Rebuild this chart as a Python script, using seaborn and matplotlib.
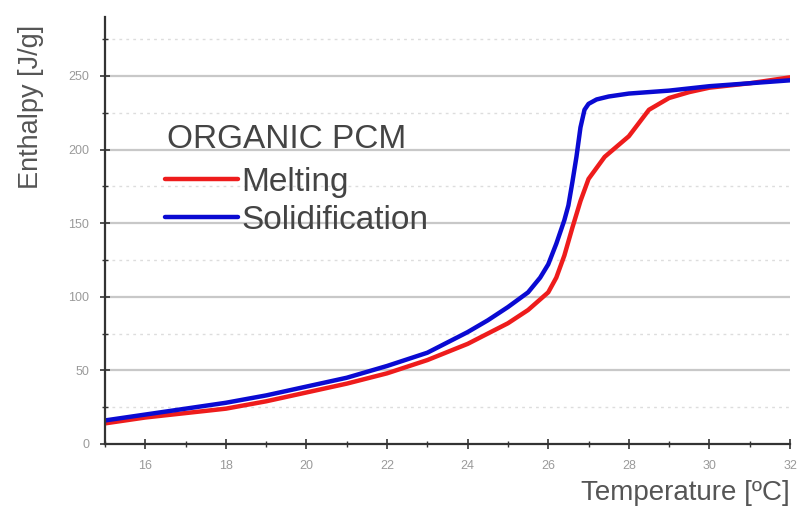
import numpy as np
import pandas as pd
import matplotlib
matplotlib.use("Agg")
import matplotlib.pyplot as plt
import seaborn as sns
from matplotlib.ticker import MultipleLocator
from matplotlib.lines import Line2D

# ---- data ----
temp_melt = [15, 16, 17, 18, 19, 20, 21, 22, 23, 24, 24.5, 25, 25.5, 26, 26.2, 26.4,
             26.6, 26.8, 27, 27.4, 28, 28.5, 29, 29.5, 30, 31, 32]
enth_melt = [14, 18, 21, 24, 29, 35, 41, 48, 57, 68, 75, 82, 91, 103, 113, 128,
             147, 165, 180, 195, 209, 227, 235, 239, 242, 245, 249]

temp_solid = [15, 16, 17, 18, 19, 20, 21, 22, 23, 24, 24.5, 25, 25.5, 25.8, 26, 26.2, 26.4,
              26.5, 26.6, 26.7, 26.8, 26.9, 27.0, 27.2, 27.5, 28, 29, 30, 31, 32]
enth_solid = [16, 20, 24, 28, 33, 39, 45, 53, 62, 76, 84, 93, 103, 113, 122, 136, 152,
              162, 178, 195, 215, 227, 231, 234, 236, 238, 240, 243, 245, 247]

series_names = ["Melting", "Solidification"]
series_colors = ["#ee1c1c", "#0a0ad2"]
legend_title = "ORGANIC PCM"
x_ticks = [16, 18, 20, 22, 24, 26, 28, 30, 32]
y_ticks = [0, 50, 100, 150, 200, 250]

df = pd.concat([
    pd.DataFrame({"Temperature": temp_melt, "Enthalpy": enth_melt, "Series": series_names[0]}),
    pd.DataFrame({"Temperature": temp_solid, "Enthalpy": enth_solid, "Series": series_names[1]}),
])

sns.set_style("white")
plt.rcParams["font.family"] = ["Liberation Sans", "DejaVu Sans"]

fig = plt.figure(figsize=(7.98, 5.12), dpi=100)
ax = fig.add_axes([105 / 798, 1 - 444 / 512, (790 - 105) / 798, (444 - 17) / 512])

# gridlines
for v in y_ticks[1:]:
    ax.axhline(v, color="#c8c8c8", lw=1.6, zorder=0)
for v in np.arange(25, 290, 50):
    ax.axhline(v, color="#dddddd", lw=1.0, ls=(0, (2, 3)), zorder=0)

sns.lineplot(data=df, x="Temperature", y="Enthalpy", hue="Series", sort=False,
             palette=dict(zip(series_names, series_colors)), lw=3.2, ax=ax,
             legend=False, estimator=None)

ax.set_xlim(15, 32)
ax.set_ylim(0, 290)
ax.set_xticks(x_ticks)
ax.set_yticks(y_ticks)
ax.xaxis.set_minor_locator(MultipleLocator(1))
ax.yaxis.set_minor_locator(MultipleLocator(25))
ax.tick_params(axis="both", which="both", bottom=True, left=True)
ax.tick_params(axis="both", which="major", direction="inout", length=7, width=1.2,
               colors="#333333", labelcolor="#9a9a9a", labelsize=9)
ax.tick_params(axis="both", which="minor", direction="inout", length=4, width=1.0,
               colors="#333333")
ax.tick_params(axis="x", which="major", pad=8)
ax.tick_params(axis="y", which="major", pad=8)

for s in ["top", "right"]:
    ax.spines[s].set_visible(False)
for s in ["left", "bottom"]:
    ax.spines[s].set_color("#333333")
    ax.spines[s].set_linewidth(1.6)

ax.set_xlabel("")
ax.set_ylabel("")
fig.text(790 / 798, 1 - 493 / 512, "Temperature [ºC]", ha="right", va="center",
         fontsize=20, color="#555555")
fig.text(31 / 798, 1 - 107 / 512, "Enthalpy [J/g]", ha="center", va="center",
         rotation=90, fontsize=19.5, color="#555555")

fig.text(167 / 798, 1 - 139 / 512, legend_title, ha="left", va="center",
         fontsize=24, color="#444444")
handles = [Line2D([], [], color=c, lw=3.2) for c in series_colors]
leg = ax.legend(handles, series_names, loc="upper left",
                bbox_to_anchor=(165 / 798, 1 - 167 / 512), bbox_transform=fig.transFigure,
                frameon=False, fontsize=24, handlelength=2.2,
                handletextpad=0.1, labelspacing=0.2, borderpad=0, borderaxespad=0)
for t in leg.get_texts():
    t.set_color("#444444")

fig.savefig("out.png", dpi=100)
